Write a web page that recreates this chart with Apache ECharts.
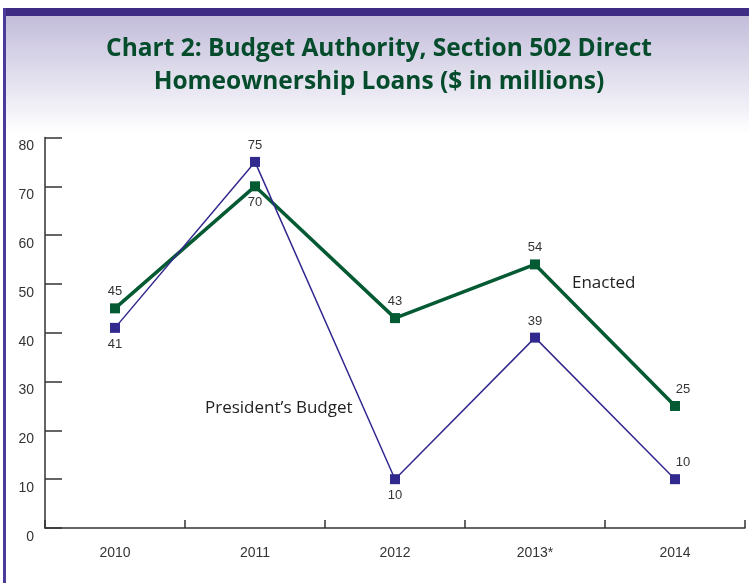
<!DOCTYPE html>
<html><head><meta charset="utf-8">
<script src="https://cdn.jsdelivr.net/npm/echarts@6/dist/echarts.min.js"></script>
<style>html,body{margin:0;padding:0;background:#fff}#c{width:749px;height:583px}</style>
</head><body><div id="c"></div>
<script>
const categories = ['2010','2011','2012','2013*','2014'];
const enacted = [45,70,43,54,25];
const president = [41,75,10,39,10];
const yTicks = [0,10,20,30,40,50,60,70,80];
const titleLines = ['Chart 2: Budget Authority, Section 502 Direct','Homeownership Loans ($ in millions)'];

const chart = echarts.init(document.getElementById('c'), null, {renderer:'canvas'});
const labelBase = {show:true, color:'#333', fontSize:13, fontFamily:'Liberation Sans, Arial, sans-serif'};
const enPos = ['top','bottom','top','top','top'];
const prPos = ['bottom','top','bottom','top','top'];
const off = i => i===4 ? [8,0] : [0,0];
chart.setOption({
  animation:false,
  graphic:[
    {type:'rect', z:-10, shape:{x:0,y:0,width:749,height:583}, style:{fill:new echarts.graphic.LinearGradient(0,0,0,1,[{offset:0,color:'#c4bedb'},{offset:0.03,color:'#c4bedb'},{offset:0.2,color:'#f6f5fa'},{offset:0.23,color:'#ffffff'},{offset:1,color:'#ffffff'}])}},
    {type:'rect', z:-9, shape:{x:0,y:0,width:749,height:8}, style:{fill:'#ffffff'}},
    {type:'rect', z:-9, shape:{x:0,y:8,width:3,height:575}, style:{fill:'#ffffff'}},
    {type:'rect', z:-8, shape:{x:3,y:8,width:746,height:8}, style:{fill:'#3e2c84'}},
    {type:'rect', z:-8, shape:{x:3,y:8,width:3,height:575}, style:{fill:'#4a3a9a'}},
    {type:'text', x:379, y:33, style:{text:titleLines.join('\n'), fill:'#054c2c', font:'bold 24.5px "Open Sans", sans-serif', textAlign:'center', lineHeight:33}},
    {type:'text', left:572, top:275, style:{text:'Enacted', fill:'#222', font:'17px "Open Sans", sans-serif'}},
    {type:'text', left:205, top:400, style:{text:'President\u2019s Budget', fill:'#222', font:'17px "Open Sans", sans-serif'}}
  ],
  grid:{left:45, right:4, top:137.5, bottom:55, containLabel:false},
  xAxis:{type:'category', data:categories, boundaryGap:true,
    axisLine:{lineStyle:{color:'#333', width:1.5}},
    axisTick:{show:true, inside:true, length:8, alignWithLabel:false, lineStyle:{color:'#333', width:1.5}},
    axisLabel:{color:'#333', fontSize:14, margin:18, fontFamily:'Liberation Sans, Arial, sans-serif'}},
  yAxis:{type:'value', min:yTicks[0], max:yTicks[yTicks.length-1], interval:10,
    axisLine:{show:true, lineStyle:{color:'#333', width:1.5}},
    axisTick:{show:true, inside:true, length:17, lineStyle:{color:'#333', width:1.5}},
    splitLine:{show:false},
    axisLabel:{color:'#333', fontSize:14, margin:11, verticalAlign:'top', padding:[2,0,0,0], fontFamily:'Liberation Sans, Arial, sans-serif'}},
  series:[
    {name:'Enacted', type:'line', data:enacted.map((v,i)=>({value:v, label:{position:enPos[i], offset:off(i)}})),
      symbol:'rect', symbolSize:10, itemStyle:{color:'#045a32'}, lineStyle:{color:'#045a32', width:3.5},
      label:Object.assign({distance:5}, labelBase), z:3},
    {name:"President's Budget", type:'line', data:president.map((v,i)=>({value:v, label:{position:prPos[i], offset:off(i)}})),
      symbol:'rect', symbolSize:10, itemStyle:{color:'#32298f'}, lineStyle:{color:'#32298f', width:1.5},
      label:Object.assign({distance:5}, labelBase), z:4}
  ]
});
</script></body></html>
